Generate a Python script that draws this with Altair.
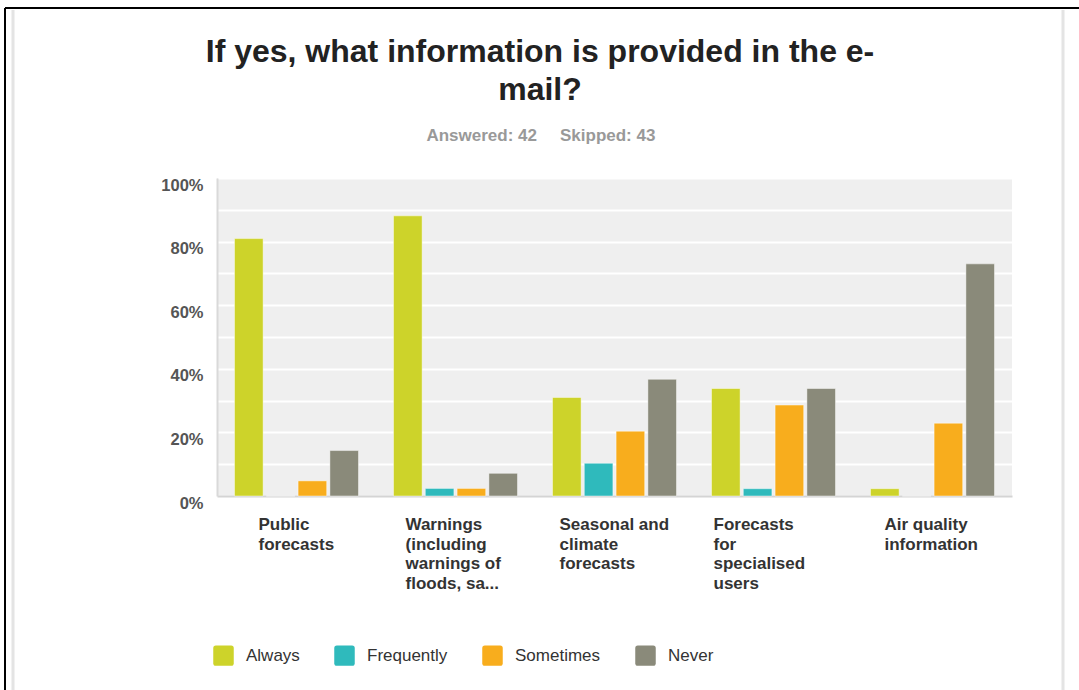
import altair as alt
import pandas as pd

categories = [
    "Public forecasts",
    "Warnings (including warnings of floods, sa...",
    "Seasonal and climate forecasts",
    "Forecasts for specialised users",
    "Air quality information",
]
label_lines = [
    ["Public", "forecasts"],
    ["Warnings", "(including", "warnings of", "floods, sa..."],
    ["Seasonal and", "climate", "forecasts"],
    ["Forecasts", "for", "specialised", "users"],
    ["Air quality", "information"],
]
series = ["Always", "Frequently", "Sometimes", "Never"]
colors = ["#CDD32A", "#2FBABC", "#F8AD1D", "#8A8A7A"]

always = [0.8095, 0.8810, 0.310, 0.338, 0.023]
frequently = [0.0, 0.0238, 0.103, 0.023, 0.0]
sometimes = [0.0476, 0.0238, 0.204, 0.286, 0.229]
never = [0.1429, 0.0714, 0.367, 0.338, 0.730]

# layout: shift of each wrapped label block from its band centre (px)
label_shift = [-38, -50, -55, -60, -48]

W, H = 795, 318
PAD_L, PAD_T = 217, 178

rows = []
for i, c in enumerate(categories):
    for s, vals in zip(series, [always, frequently, sometimes, never]):
        rows.append({"category": c, "series": s, "value": vals[i]})
df = pd.DataFrame(rows)

lab = pd.DataFrame({
    "category": categories,
    "text": ["\n".join(l) for l in label_lines],
    "dx": label_shift,
})

xscale = alt.Scale(domain=categories, paddingInner=0.22, paddingOuter=0.11)

bars = alt.Chart(df).mark_bar(stroke="#ffffff", strokeWidth=1, strokeOpacity=0.45).encode(
    x=alt.X("category:N", sort=categories, scale=xscale,
            axis=alt.Axis(labels=False, ticks=False, title=None, domain=True,
                          domainColor="#d4d4d4", domainWidth=2, grid=False)),
    xOffset=alt.XOffset("series:N", sort=series, scale=alt.Scale(domain=series, paddingInner=0.1)),
    y=alt.Y("value:Q", scale=alt.Scale(domain=[0, 1], nice=False),
            axis=alt.Axis(values=[i / 10 for i in range(11)], format=".0%",
                          labelExpr="round(datum.value*100) % 20 == 0 ? datum.label : ''",
                          title=None, ticks=False, domain=True, domainColor="#d9d9d9",
                          domainWidth=2, grid=True, gridColor="#ffffff", gridWidth=2,
                          labelFont="Liberation Sans", labelFontSize=16.5, labelFontWeight="bold",
                          labelColor="#555555", labelPadding=14, labelOffset=7)),
    color=alt.Color("series:N", sort=series, scale=alt.Scale(domain=series, range=colors),
                    legend=alt.Legend(
                        title=None, orient="none", direction="horizontal",
                        legendX=-4, legendY=467,
                        symbolType="M-0.75,-1L0.75,-1Q1,-1,1,-0.75L1,0.75Q1,1,0.75,1L-0.75,1Q-1,1,-1,0.75L-1,-0.75Q-1,-1,-0.75,-1Z",
                        symbolSize=420, symbolStrokeWidth=0, symbolOpacity=1,
                        labelFont="Liberation Sans", labelFontSize=17, labelColor="#333333",
                        labelOffset=12, columnPadding=34)),
)

xlabels = alt.Chart(lab).mark_text(
    align="left", baseline="top", lineBreak="\n", lineHeight=19.5,
    font="Liberation Sans", fontSize=17, fontWeight="bold", color="#333333",
    dx=alt.ExprRef("datum.dx"),
).encode(
    x=alt.X("category:N", sort=categories, scale=xscale),
    y=alt.value(H + 21),
    text="text:N",
)

one = pd.DataFrame({"k": [0]})

def txt(s, x, y, size, color, align="center"):
    return alt.Chart(one).mark_text(
        text=s, font="Liberation Sans", fontSize=size, fontWeight="bold",
        color=color, align=align, baseline="alphabetic",
    ).encode(x=alt.value(x - PAD_L), y=alt.value(y - PAD_T))

title1 = txt("If yes, what information is provided in the e-", 540, 62, 32, "#222222")
title2 = txt("mail?", 540, 100, 32, "#222222")
sub1 = txt("Answered: 42", 537, 141, 17, "#999999", align="right")
sub2 = txt("Skipped: 43", 560, 141, 17, "#999999", align="left")

frame_left = alt.Chart(one).mark_rule(color="#000000", strokeWidth=2).encode(
    x=alt.value(5 - PAD_L), y=alt.value(8 - PAD_T), y2=alt.value(690 - PAD_T))
frame_top = alt.Chart(one).mark_rule(color="#000000", strokeWidth=2).encode(
    x=alt.value(5 - PAD_L), x2=alt.value(1079 - PAD_L), y=alt.value(8 - PAD_T))
inner_left = alt.Chart(one).mark_rule(color="#e4e4e4", strokeWidth=3).encode(
    x=alt.value(13 - PAD_L), y=alt.value(10 - PAD_T), y2=alt.value(690 - PAD_T))
inner_right = alt.Chart(one).mark_rule(color="#e4e4e4", strokeWidth=3).encode(
    x=alt.value(1063 - PAD_L), y=alt.value(10 - PAD_T), y2=alt.value(690 - PAD_T))

chart = alt.layer(
    bars, xlabels, title1, title2, sub1, sub2, frame_left, frame_top, inner_left, inner_right
).properties(
    width=W, height=H,
    autosize=alt.AutoSizeParams(type="none"),
    padding={"left": PAD_L, "top": PAD_T, "right": 1079 - PAD_L - W, "bottom": 690 - PAD_T - H},
    background="#ffffff",
).configure_view(fill="#efefef", stroke=None)

chart.save("out.html", embed_options={"renderer": "svg", "actions": False})
